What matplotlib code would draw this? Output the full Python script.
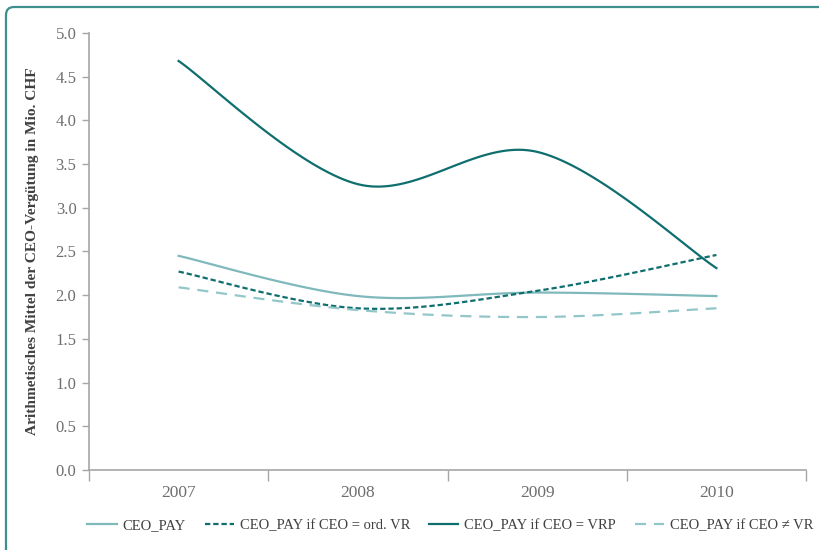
import numpy as np
import matplotlib.pyplot as plt
from matplotlib.patches import FancyBboxPatch
from matplotlib.lines import Line2D
from matplotlib.transforms import IdentityTransform

years = ["2007", "2008", "2009", "2010"]
ceo_pay = [2.45, 1.99, 2.03, 1.99]
ceo_ord_vr = [2.27, 1.85, 2.05, 2.46]
ceo_vrp = [4.68, 3.27, 3.64, 2.31]
ceo_not_vr = [2.09, 1.83, 1.75, 1.85]

labels = ["CEO_PAY", "CEO_PAY if CEO = ord. VR",
          "CEO_PAY if CEO = VRP", "CEO_PAY if CEO \u2260 VR"]

light = "#7fb9bc"
dark = "#0f6e6e"
lighter = "#93c6c8"
grey = "#a6a6a6"
text_col = "#6e6e6e"

plt.rcParams['font.family'] = ['Liberation Serif', 'DejaVu Serif']


def smooth(y, n=40):
    # Excel-like smoothed line: cubic Bezier through the points
    p = np.column_stack([np.arange(len(y)), y]).astype(float)
    pts = np.vstack([p[0], p, p[-1]])
    out = []
    for i in range(len(p) - 1):
        p0, p1, p2, p3 = pts[i], pts[i + 1], pts[i + 2], pts[i + 3]
        c1 = p1 + (p2 - p0) / 6
        c2 = p2 - (p3 - p1) / 6
        t = np.linspace(0, 1, n)[:, None]
        seg = ((1 - t) ** 3 * p1 + 3 * (1 - t) ** 2 * t * c1
               + 3 * (1 - t) * t ** 2 * c2 + t ** 3 * p2)
        out.append(seg if i == 0 else seg[1:])
    out = np.vstack(out)
    return out[:, 0], out[:, 1]


fig = plt.figure(figsize=(8.2, 5.5), dpi=100)
ax = fig.add_axes([0.1085, 0.1455, 0.8745, 0.7945])

styles = [
    (ceo_pay, dict(color=light, lw=1.6, ls="-")),
    (ceo_ord_vr, dict(color=dark, lw=1.6, ls=(0, (2.4, 1.3)))),
    (ceo_vrp, dict(color=dark, lw=1.6, ls="-")),
    (ceo_not_vr, dict(color=lighter, lw=1.6, ls=(0, (5, 3.5)))),
]
handles = []
for (vals, st), lab in zip(styles, labels):
    xs, ys = smooth(vals)
    ax.plot(xs, ys, **st)
    handles.append(Line2D([], [], **st, label=lab))

ax.set_xlim(-0.5, 3.5)
ax.set_ylim(0, 5)
ax.set_yticks(np.arange(0, 5.01, 0.5))
ax.set_yticklabels([f"{v:.1f}" for v in np.arange(0, 5.01, 0.5)])
ax.set_xticks(np.arange(-0.5, 3.6, 1))
ax.set_xticklabels([])
ax.set_xticks(range(len(years)), minor=True)
ax.set_xticklabels(years, minor=True)
ax.tick_params(axis="x", which="major", length=8, color=grey, width=1)
ax.tick_params(axis="x", which="minor", length=0, pad=11, labelsize=12.5, labelcolor=text_col)
ax.tick_params(axis="y", length=5, color=grey, width=1, labelsize=12, labelcolor=text_col, pad=4)

for s in ["top", "right"]:
    ax.spines[s].set_visible(False)
for s in ["left", "bottom"]:
    ax.spines[s].set_color(grey)
    ax.spines[s].set_linewidth(1.2)

ax.set_ylabel("Arithmetisches Mittel der CEO-Vergütung in Mio. CHF",
              fontsize=11.1, fontweight="bold", color="#404040", labelpad=12)

fig.legend(handles=handles, loc="center", bbox_to_anchor=(0.549, 0.045),
           ncol=4, frameon=False, fontsize=10.5, handlelength=2.0,
           columnspacing=1.3, handletextpad=0.4, labelcolor="#404040")

frame = FancyBboxPatch((6, -20), 840, 563, boxstyle="round,pad=0,rounding_size=8",
                       transform=IdentityTransform(), fill=False,
                       edgecolor="#3f8f8f", lw=1.6)
fig.patches.append(frame)

fig.savefig("out.png", dpi=100)
